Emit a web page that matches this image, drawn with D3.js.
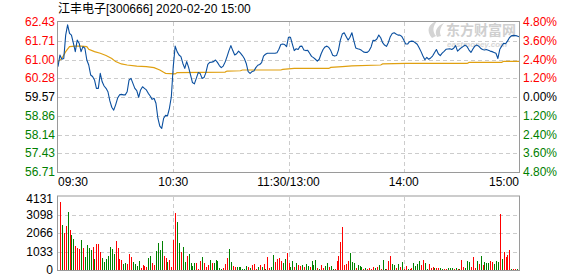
<!DOCTYPE html>
<html>
<head>
<meta charset="utf-8">
<script src="https://cdn.jsdelivr.net/npm/d3@7"></script>
<style>
  html, body { margin: 0; padding: 0; background: #fff; }
  svg { display: block; font-family: "Liberation Sans", Arial, "Noto Sans CJK SC", sans-serif; }
</style>
</head>
<body>
<svg id="grafico" width="578" height="276"></svg>
<script>
// datos leidos a ojo del grafico (precio por minuto, promedio y volumen)
var titulo = "江丰电子[300666] 2020-02-20 15:00";
var cierreAnterior = 59.57;

var precios = [
  60.73, 61.17, 61.01, 61.04, 61.93, 62.32, 62.00, 61.93, 61.62, 61.30,
  61.74, 61.62, 61.30, 61.49, 61.43, 60.98, 60.79, 60.41, 60.35, 60.22,
  59.90, 59.90, 60.47, 60.15, 59.99, 59.90, 59.77, 59.42, 59.18, 59.07,
  59.27, 59.52, 59.65, 59.67, 59.65, 59.65, 59.77, 60.22, 60.28, 60.09,
  59.90, 59.81, 59.56, 59.84, 59.96, 59.90, 59.84, 59.71, 59.61, 59.48,
  59.52, 59.33, 58.76, 58.46, 58.37, 58.76, 58.87, 58.85, 59.14, 59.58,
  60.73, 61.51, 61.30, 61.17, 61.11, 60.85, 60.66, 60.92, 60.70, 60.41,
  60.12, 60.07, 60.28, 60.50, 60.47, 60.28, 60.31, 60.50, 60.81, 60.89,
  60.90, 60.92, 60.98, 60.89, 60.77, 60.69, 60.75, 60.90, 61.11, 61.34,
  61.53, 61.34, 61.17, 61.22, 61.32, 61.24, 61.15, 61.04, 60.85, 60.54,
  60.47, 60.54, 60.56, 60.69, 60.78, 60.81, 60.88, 61.13, 61.20, 61.24,
  61.24, 61.24, 61.24, 61.24, 61.26, 61.39, 61.57, 61.59, 61.57, 61.49,
  61.85, 61.85, 61.59, 61.34, 61.41, 61.38, 61.50, 61.51, 61.36, 61.34,
  61.35, 61.24, 61.12, 61.07, 61.01, 60.94, 61.01, 61.22, 61.38, 61.48,
  61.51, 61.46, 61.34, 61.16, 61.13, 61.15, 61.36, 61.74, 61.97, 62.02,
  61.88, 61.74, 61.85, 62.02, 61.72, 61.44, 61.41, 61.39, 61.35, 61.29,
  61.27, 61.27, 61.34, 61.48, 61.73, 61.72, 61.78, 61.93, 61.83, 61.64,
  61.55, 61.50, 61.65, 61.87, 61.99, 62.02, 61.97, 61.93, 61.93, 61.88,
  61.74, 61.59, 61.59, 61.68, 61.70, 61.69, 61.64, 61.58, 61.45, 61.30,
  61.13, 60.99, 61.08, 61.01, 61.06, 61.13, 61.26, 61.38, 61.22, 61.15,
  61.24, 61.31, 61.39, 61.40, 61.41, 61.38, 61.43, 61.53, 61.32, 61.39,
  61.45, 61.50, 61.55, 61.49, 61.36, 61.27, 61.40, 61.51, 61.55, 61.51,
  61.43, 61.38, 61.36, 61.38, 61.35, 61.32, 61.30, 61.27, 61.24, 61.04,
  61.39, 61.51, 61.62, 61.60, 61.70, 61.83, 61.90, 61.92, 61.91, 61.90, 61.87
];

// la linea del promedio cambia poco, la leemos en los puntos donde dobla
var promedioMin = [0, 2, 4, 6, 9, 12, 15, 16, 19, 22, 25, 28, 30, 33, 36, 41, 46, 50, 53, 55, 56, 61,
  62, 87, 88, 95, 96, 116, 117, 123, 141, 142, 148, 153, 168, 169, 181, 213, 214, 231, 232, 240];
var promedioPrecio = [60.92, 61.04, 61.30, 61.49, 61.51, 61.51, 61.49, 61.39, 61.30, 61.24, 61.15, 61.04,
  60.92, 60.83, 60.79, 60.75, 60.73, 60.69, 60.60, 60.51, 60.47, 60.45, 60.50, 60.52, 60.56, 60.57,
  60.60, 60.60, 60.62, 60.66, 60.66, 60.70, 60.73, 60.76, 60.79, 60.83, 60.85, 60.85, 60.89, 60.89,
  60.93, 60.93];

// volumen de cada minuto desde 09:31, y si ese minuto subio (rojo) o bajo (verde)
var volumenes = [
  3822, 2529, 2079, 2473, 3260, 2248, 1967, 1742, 1349, 1236,
  1180, 1686, 1236, 731, 1405, 1236, 1124, 1293, 618, 1461,
  1461, 1012, 674, 450, 618, 787, 1293, 1180, 899, 1630,
  1236, 618, 562, 337, 393, 337, 899, 731, 450, 337,
  225, 506, 112, 281, 225, 169, 674, 787, 393, 281,
  1068, 1517, 1124, 1630, 787, 674, 450, 562, 169, 1686,
  3203, 2698, 1517, 1012, 1293, 450, 787, 899, 393, 225,
  393, 393, 56, 506, 731, 393, 169, 281, 562, 393,
  393, 562, 506, 112, 56, 112, 337, 674, 1180, 450,
  225, 169, 169, 169, 169, 56, 56, 225, 169, 112,
  281, 337, 56, 169, 281, 169, 337, 56, 731, 112,
  169, 843, 450, 618, 674, 506, 393, 618, 955,
  393, 169, 506, 169, 393, 281, 225, 281, 169, 337,
  225, 169, 506, 281, 562, 112, 56, 281, 112, 225,
  393, 169, 225, 56, 56, 506, 787, 1574, 2417, 281,
  337, 506, 955, 450, 393, 112, 281, 225, 169, 56,
  112, 56, 112, 56, 169, 112, 169, 281, 56, 562,
  56, 56, 506, 787, 337, 281, 112, 337, 169, 450,
  56, 225, 56, 56, 112, 393, 225, 337, 506, 281,
  562, 393, 56, 337, 112, 169, 112, 112, 112, 112,
  56, 56, 56, 112, 112, 112, 56, 112, 56, 56,
  562, 169, 112, 506, 450, 169, 731, 112, 506, 337,
  787, 281, 450, 393, 393, 506, 450, 337, 506, 450,
  3147, 618, 1012, 731, 843, 1124, 40, 30, 56, 45, 1911
];
var subio = [
  1, 0, 1, 1, 0, 1, 0, 0, 1, 1,
  1, 0, 1, 0, 0, 0, 0, 1, 0, 1,
  1, 1, 0, 0, 0, 0, 0, 0, 0, 1,
  1, 1, 1, 0, 0, 1, 1, 1, 0, 0,
  0, 0, 1, 1, 1, 1, 0, 0, 1, 1,
  0, 0, 0, 0, 1, 1, 0, 1, 1, 1,
  1, 0, 0, 1, 0, 0, 1, 0, 0, 0,
  0, 1, 1, 1, 0, 1, 1, 1, 0, 1,
  0, 0, 0, 0, 0, 1, 1, 1, 0, 0,
  1, 1, 0, 0, 0, 0, 0, 0, 1, 0,
  1, 1, 1, 0, 1, 0, 1, 0, 1, 1,
  0, 0, 1, 1, 1, 1, 0, 0, 1,
  1, 0, 0, 1, 0, 1, 1, 0, 1, 0,
  0, 1, 0, 0, 0, 1, 0, 1, 1, 0,
  0, 1, 0, 0, 1, 1, 1, 1, 1, 1,
  1, 1, 0, 0, 0, 1, 0, 0, 0, 1,
  0, 1, 1, 1, 1, 0, 1, 0, 1, 0,
  0, 1, 1, 1, 0, 0, 1, 0, 1, 0,
  1, 1, 0, 1, 1, 0, 0, 0, 0, 1,
  1, 0, 0, 1, 1, 1, 0, 1, 1, 0,
  0, 1, 1, 0, 0, 0, 1, 0, 1, 0,
  1, 1, 0, 0, 0, 1, 1, 1, 0, 1,
  0, 1, 0, 0, 0, 1, 1, 0, 0, 0,
  1, 0, 1, 1, 1, 1, 0, 1, 1, 0, 0
];

var preciosEje = [62.43, 61.71, 61.00, 60.28, 59.57, 58.86, 58.14, 57.43, 56.71];
var porcentajesEje = ["4.80%", "3.60%", "2.40%", "1.20%", "0.00%", "1.20%", "2.40%", "3.60%", "4.80%"];
var volumenesEje = [4131, 3098, 2066, 1033, 0];
var horasEje = ["09:30", "10:30", "11:30/13:00", "14:00", "15:00"];
var minutosEje = [0, 60, 120, 180, 240];

var ROJO = "#ff0000";
var VERDE = "#008000";
var OSCURO = "#000000";
var AZUL = "#0a4f9f";
var NARANJA = "#e0a010";
var BORDE = "#9a9a9a";
var REJILLA = "#cccccc";

var svg = d3.select("#grafico");

var izq = 58, der = 519;
var precioArriba = 22, precioAbajo = 172;
var volArriba = 196.5, volAbajo = 270;

var x = d3.scaleLinear().domain([0, 240]).range([izq, der]);
var y = d3.scaleLinear().domain([56.71, 62.43]).range([precioAbajo, precioArriba]);
var yVol = d3.scaleLinear().domain([0, 4131]).range([volAbajo, volArriba]);

function colorPrecio(v) {
  if (v > cierreAnterior + 0.001) return ROJO;
  if (v < cierreAnterior - 0.001) return VERDE;
  return OSCURO;
}

function nitido(v) { return Math.round(v) + 0.5; }

// marca de agua de eastmoney, va detras de todo
var marca = svg.append("g").attr("class", "marca");
marca.append("path")
  .attr("d", "M432,38 C426,31 428,24 437,21 C433,26 432,31 436,36 Z M437,37 C434,31 437,26 444,23 C440,28 439,32 441,36 Z")
  .attr("fill", "#d4d4d4");
marca.append("text")
  .attr("x", 446).attr("y", 35)
  .attr("font-size", 14).attr("font-weight", "bold")
  .attr("font-family", "'Noto Sans CJK SC', sans-serif")
  .attr("fill", "#cfcfcf")
  .text("东方财富网");
marca.append("text")
  .attr("x", 447).attr("y", 46.5)
  .attr("font-size", 8).attr("font-weight", "bold").attr("font-style", "italic")
  .attr("fill", "#d6d6d6")
  .text("eastmoney.com");

// rejilla punteada de los dos paneles
var rejilla = svg.append("g").attr("stroke", REJILLA).attr("stroke-dasharray", "4,3").attr("shape-rendering", "crispEdges");

rejilla.selectAll("line.hp").data(preciosEje.slice(1, -1)).enter().append("line")
  .attr("class", "hp")
  .attr("x1", izq).attr("x2", der)
  .attr("y1", function (d) { return nitido(y(d)); })
  .attr("y2", function (d) { return nitido(y(d)); });

rejilla.selectAll("line.hv").data(volumenesEje.slice(1, -1)).enter().append("line")
  .attr("class", "hv")
  .attr("x1", izq).attr("x2", der)
  .attr("y1", function (d) { return nitido(yVol(d)); })
  .attr("y2", function (d) { return nitido(yVol(d)); });

[[precioArriba, precioAbajo], [volArriba, volAbajo]].forEach(function (panel) {
  rejilla.selectAll(null).data(minutosEje.slice(1, -1)).enter().append("line")
    .attr("x1", function (d) { return nitido(x(d)); })
    .attr("x2", function (d) { return nitido(x(d)); })
    .attr("y1", panel[0]).attr("y2", panel[1]);
});

// barras de volumen, una por minuto desde 09:31
svg.append("g").attr("shape-rendering", "crispEdges")
  .selectAll("rect").data(volumenes).enter().append("rect")
  .attr("x", function (d, i) { return Math.round(x(i + 1)); })
  .attr("width", 1)
  .attr("y", function (d) { return yVol(d); })
  .attr("height", function (d) { return volAbajo - yVol(d); })
  .attr("fill", function (d, i) { return subio[i] ? ROJO : VERDE; });

// linea del promedio y del precio
var lineaPromedio = d3.line()
  .x(function (d, i) { return x(promedioMin[i]); })
  .y(function (d) { return y(d); });
svg.append("path")
  .attr("d", lineaPromedio(promedioPrecio))
  .attr("fill", "none").attr("stroke", NARANJA).attr("stroke-width", 1.2);

var lineaPrecio = d3.line()
  .x(function (d, i) { return x(i); })
  .y(function (d) { return y(d); });
svg.append("path")
  .attr("d", lineaPrecio(precios))
  .attr("fill", "none").attr("stroke", AZUL).attr("stroke-width", 1.1)
  .attr("stroke-linejoin", "round");

// bordes de los paneles
svg.append("rect")
  .attr("x", izq - 0.5).attr("y", precioArriba - 0.5)
  .attr("width", der - izq + 1).attr("height", precioAbajo - precioArriba + 1)
  .attr("fill", "none").attr("stroke", BORDE);
svg.append("rect")
  .attr("x", izq - 0.5).attr("y", volArriba - 0.5)
  .attr("width", der - izq + 1).attr("height", volAbajo - volArriba + 1)
  .attr("fill", "none").attr("stroke", BORDE);

// textos
svg.append("text")
  .attr("x", izq).attr("y", 13)
  .attr("font-size", 12).attr("fill", "#000")
  .text(titulo);

svg.append("g").selectAll("text").data(preciosEje).enter().append("text")
  .attr("x", 55)
  .attr("y", function (d) { return y(d) + 4; })
  .attr("text-anchor", "end")
  .attr("font-size", 12)
  .attr("fill", colorPrecio)
  .text(function (d) { return d.toFixed(2); });

svg.append("g").selectAll("text").data(porcentajesEje).enter().append("text")
  .attr("x", 523)
  .attr("y", function (d, i) { return y(preciosEje[i]) + 4; })
  .attr("font-size", 12)
  .attr("fill", function (d, i) { return colorPrecio(preciosEje[i]); })
  .text(function (d) { return d; });

svg.append("g").selectAll("text").data(volumenesEje).enter().append("text")
  .attr("x", 53)
  .attr("y", function (d) { return Math.max(yVol(d), 199) + 4; })
  .attr("text-anchor", "end")
  .attr("font-size", 12)
  .attr("fill", "#000")
  .text(function (d) { return d; });

svg.append("g").selectAll("text").data(horasEje).enter().append("text")
  .attr("x", function (d, i) { return x(minutosEje[i]); })
  .attr("y", 186)
  .attr("text-anchor", function (d, i) {
    if (i === 0) return "start";
    if (i === horasEje.length - 1) return "end";
    return "middle";
  })
  .attr("font-size", 12)
  .attr("fill", "#000")
  .text(function (d) { return d; });
</script>
</body>
</html>
